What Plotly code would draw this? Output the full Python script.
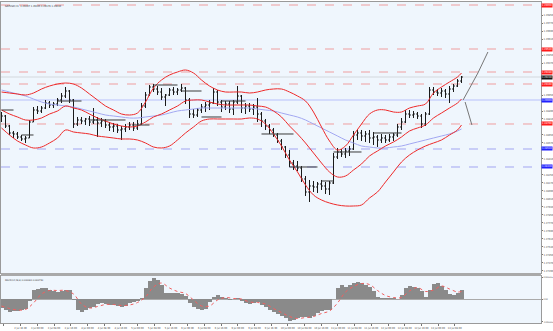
import plotly.graph_objects as go

# ---------------- data ----------------
opens = [1.2882, 1.2884, 1.2874, 1.2867, 1.2866, 1.2863, 1.2861, 1.2862, 1.2878, 1.2890,
         1.2889, 1.2892, 1.2897, 1.2895, 1.2896, 1.2900, 1.2904, 1.2909, 1.2900, 1.2876,
         1.2880, 1.2879, 1.2881, 1.2878, 1.2880, 1.2877, 1.2879, 1.2875, 1.2873, 1.2874,
         1.2870, 1.2871, 1.2873, 1.2875, 1.2872, 1.2876, 1.2894, 1.2905, 1.2913, 1.2911,
         1.2908, 1.2903, 1.2905, 1.2910, 1.2908, 1.2910, 1.2912, 1.2900, 1.2886, 1.2885,
         1.2890, 1.2893, 1.2895, 1.2897, 1.2908, 1.2898, 1.2893, 1.2896, 1.2891, 1.2898,
         1.2904, 1.2892, 1.2894, 1.2891, 1.2893, 1.2886, 1.2879, 1.2874, 1.2870, 1.2865,
         1.2859, 1.2853, 1.2845, 1.2837, 1.2834, 1.2832, 1.2821, 1.2808, 1.2814, 1.2813,
         1.2816, 1.2814, 1.2811, 1.2817, 1.2843, 1.2848, 1.2846, 1.2849, 1.2851, 1.2865,
         1.2867, 1.2864, 1.2866, 1.2862, 1.2863, 1.2860, 1.2862, 1.2860, 1.2863, 1.2865,
         1.2873, 1.2878, 1.2886, 1.2885, 1.2886, 1.2884, 1.2876, 1.2886, 1.2910, 1.2908,
         1.2907, 1.2909, 1.2906, 1.2911, 1.2914, 1.2919]
highs = [1.2888, 1.2885, 1.2875, 1.2869, 1.2868, 1.2865, 1.2864, 1.2880, 1.2893, 1.2894,
         1.2894, 1.2900, 1.2899, 1.2898, 1.2902, 1.2907, 1.2913, 1.2910, 1.2901, 1.2883,
         1.2883, 1.2882, 1.2884, 1.2892, 1.2883, 1.2882, 1.2881, 1.2878, 1.2877, 1.2876,
         1.2874, 1.2876, 1.2878, 1.2878, 1.2880, 1.2897, 1.2908, 1.2915, 1.2916, 1.2914,
         1.2912, 1.2906, 1.2912, 1.2913, 1.2912, 1.2916, 1.2913, 1.2902, 1.2891, 1.2892,
         1.2896, 1.2898, 1.2900, 1.2912, 1.2910, 1.2900, 1.2899, 1.2899, 1.2900, 1.2914,
         1.2905, 1.2897, 1.2897, 1.2896, 1.2902, 1.2888, 1.2881, 1.2876, 1.2872, 1.2867,
         1.2861, 1.2854, 1.2850, 1.2840, 1.2839, 1.2834, 1.2824, 1.2820, 1.2819, 1.2818,
         1.2820, 1.2818, 1.2819, 1.2847, 1.2852, 1.2851, 1.2852, 1.2854, 1.2869, 1.2871,
         1.2870, 1.2869, 1.2870, 1.2868, 1.2865, 1.2866, 1.2865, 1.2866, 1.2867, 1.2876,
         1.2882, 1.2890, 1.2890, 1.2889, 1.2888, 1.2886, 1.2888, 1.2913, 1.2913, 1.2911,
         1.2912, 1.2911, 1.2914, 1.2916, 1.2921, 1.2924]
lows = [1.2878, 1.2872, 1.2865, 1.2862, 1.2861, 1.2859, 1.2857, 1.2862, 1.2878, 1.2886,
        1.2887, 1.2891, 1.2892, 1.2892, 1.2894, 1.2897, 1.2902, 1.2897, 1.2872, 1.2874,
        1.2876, 1.2875, 1.2874, 1.2876, 1.2863, 1.2873, 1.2872, 1.2869, 1.2868, 1.2867,
        1.2860, 1.2868, 1.2870, 1.2869, 1.2870, 1.2875, 1.2892, 1.2904, 1.2908, 1.2905,
        1.2900, 1.2894, 1.2904, 1.2905, 1.2905, 1.2908, 1.2896, 1.2882, 1.2882, 1.2883,
        1.2887, 1.2888, 1.2890, 1.2896, 1.2894, 1.2888, 1.2890, 1.2887, 1.2885, 1.2896,
        1.2887, 1.2886, 1.2888, 1.2885, 1.2878, 1.2873, 1.2870, 1.2866, 1.2863, 1.2857,
        1.2850, 1.2842, 1.2833, 1.2830, 1.2829, 1.2818, 1.2804, 1.2798, 1.2808, 1.2807,
        1.2810, 1.2806, 1.2805, 1.2816, 1.2841, 1.2843, 1.2842, 1.2844, 1.2850, 1.2860,
        1.2859, 1.2858, 1.2857, 1.2855, 1.2853, 1.2857, 1.2857, 1.2858, 1.2859, 1.2863,
        1.2870, 1.2877, 1.2882, 1.2882, 1.2881, 1.2872, 1.2874, 1.2885, 1.2905, 1.2904,
        1.2903, 1.2902, 1.2897, 1.2908, 1.2913, 1.2917]
closes = [1.2884, 1.2874, 1.2867, 1.2866, 1.2863, 1.2861, 1.2862, 1.2878, 1.2890, 1.2889,
          1.2892, 1.2897, 1.2895, 1.2896, 1.2900, 1.2904, 1.2909, 1.2900, 1.2876, 1.2880,
          1.2879, 1.2881, 1.2878, 1.2880, 1.2877, 1.2879, 1.2875, 1.2873, 1.2874, 1.2870,
          1.2871, 1.2873, 1.2875, 1.2872, 1.2876, 1.2894, 1.2905, 1.2913, 1.2911, 1.2908,
          1.2903, 1.2905, 1.2910, 1.2908, 1.2910, 1.2912, 1.2900, 1.2886, 1.2885, 1.2890,
          1.2893, 1.2895, 1.2897, 1.2908, 1.2898, 1.2893, 1.2896, 1.2891, 1.2898, 1.2904,
          1.2892, 1.2894, 1.2891, 1.2893, 1.2886, 1.2879, 1.2874, 1.2870, 1.2865, 1.2859,
          1.2853, 1.2845, 1.2837, 1.2834, 1.2832, 1.2821, 1.2808, 1.2814, 1.2813, 1.2816,
          1.2814, 1.2811, 1.2817, 1.2843, 1.2848, 1.2846, 1.2849, 1.2851, 1.2865, 1.2867,
          1.2864, 1.2866, 1.2862, 1.2863, 1.2860, 1.2862, 1.2860, 1.2863, 1.2865, 1.2873,
          1.2878, 1.2886, 1.2885, 1.2886, 1.2884, 1.2876, 1.2886, 1.2910, 1.2908, 1.2907,
          1.2909, 1.2906, 1.2911, 1.2914, 1.2919, 1.2923]

# Bollinger bands + slow MA, sampled every second bar (plus the last one)
bb_upper = [1.2908, 1.2907, 1.2906, 1.2905, 1.2907, 1.2911, 1.2914, 1.2916, 1.2917, 1.2916,
            1.2912, 1.2906, 1.2900, 1.2894, 1.2890, 1.2886, 1.2885, 1.2887, 1.2898, 1.2912,
            1.2920, 1.2925, 1.2928, 1.2930, 1.2927, 1.2920, 1.2914, 1.2910, 1.2908, 1.2908,
            1.2908, 1.2907, 1.2908, 1.2910, 1.2911, 1.2911, 1.2908, 1.2904, 1.2899, 1.2888,
            1.2873, 1.2859, 1.2850, 1.2854, 1.2865, 1.2876, 1.2886, 1.2890, 1.2890, 1.2888,
            1.2888, 1.2892, 1.2894, 1.2896, 1.2907, 1.2913, 1.2918, 1.2923, 1.2927]
bb_mid = [1.2890, 1.2886, 1.2883, 1.2880, 1.2880, 1.2882, 1.2886, 1.2889, 1.2894, 1.2892,
          1.2890, 1.2886, 1.2882, 1.2879, 1.2876, 1.2874, 1.2873, 1.2874, 1.2878, 1.2883,
          1.2886, 1.2890, 1.2894, 1.2899, 1.2900, 1.2900, 1.2898, 1.2896, 1.2895, 1.2895,
          1.2895, 1.2895, 1.2894, 1.2893, 1.2889, 1.2883, 1.2874, 1.2866, 1.2857, 1.2847,
          1.2837, 1.2828, 1.2823, 1.2824, 1.2830, 1.2836, 1.2844, 1.2849, 1.2854, 1.2858,
          1.2863, 1.2869, 1.2872, 1.2875, 1.2882, 1.2887, 1.2892, 1.2897, 1.2901]
bb_lower = [1.2872, 1.2865, 1.2859, 1.2855, 1.2852, 1.2853, 1.2857, 1.2862, 1.2870, 1.2868,
            1.2867, 1.2866, 1.2864, 1.2863, 1.2862, 1.2861, 1.2861, 1.2860, 1.2857, 1.2853,
            1.2852, 1.2854, 1.2860, 1.2867, 1.2873, 1.2879, 1.2881, 1.2881, 1.2881, 1.2881,
            1.2881, 1.2882, 1.2881, 1.2876, 1.2866, 1.2854, 1.2840, 1.2828, 1.2815, 1.2805,
            1.2800, 1.2797, 1.2795, 1.2794, 1.2794, 1.2795, 1.2802, 1.2808, 1.2818, 1.2828,
            1.2838, 1.2845, 1.2850, 1.2854, 1.2857, 1.2860, 1.2865, 1.2870, 1.2875]
ma_slow = [1.2910, 1.2908, 1.2906, 1.2904, 1.2901, 1.2898, 1.2896, 1.2895, 1.2894, 1.2893,
           1.2891, 1.2889, 1.2887, 1.2885, 1.2884, 1.2883, 1.2882, 1.2882, 1.2883, 1.2884,
           1.2885, 1.2887, 1.2889, 1.2890, 1.2891, 1.2892, 1.2892, 1.2892, 1.2892, 1.2892,
           1.2892, 1.2892, 1.2891, 1.2890, 1.2889, 1.2887, 1.2885, 1.2883, 1.2880, 1.2876,
           1.2872, 1.2868, 1.2864, 1.2860, 1.2857, 1.2854, 1.2853, 1.2852, 1.2852, 1.2853,
           1.2854, 1.2856, 1.2858, 1.2860, 1.2862, 1.2864, 1.2866, 1.2869, 1.2871]

macd_hist = [-0.00085, -0.00105, -0.00125, -0.0012, -0.00115, -0.0011, -0.00095, -0.0002, 0.0009, 0.00105,
             0.0011, 0.0011, 0.00095, 0.0008, 0.0007, 0.0008, 0.00095, 0.0009, -0.0001, -0.0011,
             -0.00125, -0.0011, -0.0009, -0.00075, -0.0005, -0.0004, -0.0005, -0.0006, -0.0006, -0.0007,
             -0.00075, -0.00065, -0.0004, -0.00025, -0.00015, 0.0001, 0.0011, 0.0018, 0.0021, 0.00195,
             0.0014, 0.0006, 0.0006, 0.0006, 0.0006, 0.00055, 0.00035, -0.00035, -0.00075, -0.00095,
             -0.00105, -0.00095, -0.0003, 0.00025, 0.0004, 0.00025, 0.00005, -0.0001, 0.0, 0.0001,
             -0.00015, -0.00035, -0.0005, -0.0004, -0.00025, -0.00055, -0.0008, -0.0011, -0.0013, -0.0015,
             -0.00165, -0.00185, -0.00225, -0.0021, -0.0019, -0.0018, -0.0018, -0.0019, -0.00165, -0.0014,
             -0.0012, -0.0011, -0.0011, 0.0, 0.0011, 0.0014, 0.00125, 0.0014, 0.0016, 0.00175,
             0.00165, 0.00145, 0.00125, 0.0008, 0.00015, 0.0001, 0.0001, 0.0001, 0.00005, 0.0,
             0.0004, 0.0011, 0.0013, 0.00125, 0.00115, 0.0008, 0.00015, 0.0009, 0.0015, 0.0016,
             0.0013, 0.0009, 0.00055, 0.0004, 0.0006, 0.0009]
macd_signal = [-0.0007, -0.00095, -0.0011, -0.00105, -0.0004, 0.0005, 0.00085, 0.00085, 0.00085, 0.0005,
               -0.0005, -0.0009, -0.00075, -0.00055, -0.00055, -0.00065, -0.0006, -0.00035, 0.0002, 0.0012,
               0.0016, 0.0011, 0.00075, 0.00055, -0.0001, -0.0007, -0.0007, -0.0001, 0.00015, 0.00005,
               0.0, -0.0003, -0.00035, -0.0005, -0.00095, -0.00135, -0.00175, -0.00195, -0.00185, -0.00175,
               -0.00145, -0.0012, -0.0004, 0.0007, 0.00125, 0.00155, 0.00145, 0.00085, 0.00035, 0.00015,
               0.00015, 0.0008, 0.00115, 0.00075, 0.0009, 0.0013, 0.001, 0.0007, 0.00075]

# horizontal levels drawn on the chart
red_levels = [1.2995, 1.2951, 1.2928, 1.2916, 1.2876]
blue_dash_levels = [1.2851, 1.2833]
blue_solid_levels = [1.2900]
bid_level = 1.2923

# short black level segments (bar index start / end, price)
seg_start = [0, 5, 14, 22, 33, 38, 45, 50, 55, 65, 72, 80, 83, 93]
seg_end = [3, 8, 20, 31, 37, 44, 50, 55, 61, 73, 79, 83, 90, 100]
seg_level = [1.2890, 1.2865, 1.2899, 1.2880, 1.2875, 1.2915, 1.2909, 1.2883, 1.2899,
             1.2866, 1.2833, 1.2819, 1.2848, 1.2867]

# hand-drawn projection lines
proj_up_x = [115.4, 119.1, 121.6]
proj_up_y = [1.2900, 1.2927, 1.2948]
proj_dn_x = [115.9, 117.6]
proj_dn_y = [1.2898, 1.2875]

time_labels = ["2 Jul 2018", "2 Jul 16:00", "3 Jul 00:00", "3 Jul 08:00", "3 Jul 16:00",
               "4 Jul 00:00", "4 Jul 08:00", "4 Jul 16:00", "5 Jul 00:00", "5 Jul 08:00",
               "5 Jul 16:00", "6 Jul 00:00", "6 Jul 08:00", "6 Jul 16:00", "9 Jul 00:00",
               "9 Jul 08:00", "9 Jul 16:00", "10 Jul 00:00", "10 Jul 08:00", "10 Jul 16:00",
               "11 Jul 00:00", "11 Jul 08:00", "11 Jul 16:00", "12 Jul 00:00", "12 Jul 08:00",
               "12 Jul 16:00", "13 Jul 00:00", "13 Jul 08:00"]

# ---------------- figure ----------------
n = len(closes)
bar_idx = list(range(n))
band_idx = list(range(0, n, 2)) + [n - 1]

RED = "#ee2a2a"
FONT = "DejaVu Sans Condensed, DejaVu Sans"
fig = go.Figure()

fig.add_trace(go.Scatter(x=band_idx, y=ma_slow, mode="lines", line=dict(color="#a3a8f2", width=1, shape="spline"),
                         xaxis="x", yaxis="y"))
for arr in (bb_upper, bb_mid, bb_lower):
    fig.add_trace(go.Scatter(x=band_idx, y=arr, mode="lines", line=dict(color=RED, width=1, shape="spline"),
                             xaxis="x", yaxis="y"))

sx, sy = [], []
for a, b, lv in zip(seg_start, seg_end, seg_level):
    sx += [a, b, None]
    sy += [lv, lv, None]
fig.add_trace(go.Scatter(x=sx, y=sy, mode="lines", line=dict(color="#3a3a3a", width=1), xaxis="x", yaxis="y"))

fig.add_trace(go.Ohlc(x=bar_idx, open=opens, high=highs, low=lows, close=closes,
                      increasing=dict(line=dict(color="#1a1a1a", width=1)),
                      decreasing=dict(line=dict(color="#1a1a1a", width=1)),
                      tickwidth=0.35, xaxis="x", yaxis="y"))

fig.add_trace(go.Scatter(x=proj_up_x, y=proj_up_y, mode="lines", line=dict(color="#777", width=1), xaxis="x", yaxis="y"))
fig.add_trace(go.Scatter(x=proj_dn_x, y=proj_dn_y, mode="lines", line=dict(color="#777", width=1), xaxis="x", yaxis="y"))

fig.add_trace(go.Bar(x=bar_idx, y=macd_hist, marker=dict(color="#8a8a8a", line=dict(width=0)),
                     width=1.0, xaxis="x2", yaxis="y2"))
fig.add_trace(go.Scatter(x=band_idx, y=macd_signal, mode="lines",
                         line=dict(color="#f06060", width=1, dash="dot", shape="spline"), xaxis="x2", yaxis="y2"))

# horizontal level lines
shapes = []
for lv in red_levels:
    shapes.append(dict(type="line", xref="paper", x0=0, x1=1, yref="y", y0=lv, y1=lv,
                       line=dict(color="rgba(240,110,110,0.65)", width=1, dash="dash"), layer="below"))
for lv in blue_dash_levels:
    shapes.append(dict(type="line", xref="paper", x0=0, x1=1, yref="y", y0=lv, y1=lv,
                       line=dict(color="rgba(110,110,235,0.6)", width=1, dash="dash"), layer="below"))
for lv in blue_solid_levels:
    shapes.append(dict(type="line", xref="paper", x0=0, x1=1, yref="y", y0=lv, y1=lv,
                       line=dict(color="rgba(170,180,250,0.8)", width=1), layer="below"))
shapes.append(dict(type="line", xref="paper", x0=0, x1=1, yref="y", y0=bid_level, y1=bid_level,
                   line=dict(color="rgba(160,160,160,0.35)", width=1), layer="below"))
# separator between panels
shapes.append(dict(type="rect", xref="paper", x0=0, x1=1, yref="paper", y0=0.1464, y1=0.1558,
                   fillcolor="#a9a9a9", line=dict(width=0)))

tag_levels = red_levels + blue_dash_levels + blue_solid_levels + [bid_level]
annotations = []
def price_tag(lv, color):
    annotations.append(dict(xref="paper", x=1.0, xanchor="left", yref="y", y=lv, yanchor="middle",
                            text="%.5f" % lv, showarrow=False, bgcolor=color, borderpad=0,
                            font=dict(size=2.6, color="white", family=FONT)))
for lv in red_levels:
    price_tag(lv, "#ff1a1a")
for lv in blue_dash_levels + blue_solid_levels:
    price_tag(lv, "#2020ff")
price_tag(bid_level, "#111111")

annotations.append(dict(xref="paper", x=0.004, xanchor="left", yref="paper", y=0.997, yanchor="top",
                        text="GBPUSD,H1  1.29207 1.29245 1.29176 1.29230", showarrow=False,
                        font=dict(size=2.6, color="#333", family=FONT)))
annotations.append(dict(xref="paper", x=0.004, xanchor="left", yref="paper", y=0.144, yanchor="top",
                        text="MACD(12,26,9) 0.000901 0.000750", showarrow=False,
                        font=dict(size=2.4, color="#333", family=FONT)))

price_ticks = [round(1.2993 - 0.0008 * k, 4) for k in range(34)]
price_ticks = [v for v in price_ticks if min(abs(v - t) for t in tag_levels) > 0.00035]
label_step = 4.175
tick_pos = [0.6 + label_step * k for k in range(len(time_labels))]

fig.update_layout(
    width=553, height=331,
    margin=dict(l=1, r=12, t=2, b=8, autoexpand=False),
    paper_bgcolor="#ffffff", plot_bgcolor="#eff6fd",
    showlegend=False, bargap=0,
    shapes=shapes, annotations=annotations,
    xaxis=dict(domain=[0, 1], range=[-0.125, 134.875], anchor="y", showticklabels=False,
               showgrid=False, zeroline=False, showline=True, linecolor="#9a9a9a", mirror=True,
               rangeslider=dict(visible=False), fixedrange=True, automargin=False),
    yaxis=dict(domain=[0.1558, 1.0], range=[1.2727, 1.2998], side="right", anchor="x",
               tickvals=price_ticks, ticktext=["%.5f" % v for v in price_ticks],
               tickfont=dict(size=2.6, color="#444", family=FONT),
               ticks="outside", ticklen=1, tickcolor="#777", automargin=False,
               showgrid=False, zeroline=False, showline=True, linecolor="#9a9a9a", mirror=True),
    xaxis2=dict(domain=[0, 1], range=[-0.125, 134.875], anchor="y2", matches="x",
                tickvals=tick_pos, ticktext=time_labels, tickangle=0, automargin=False,
                tickfont=dict(size=2.6, color="#444", family=FONT),
                ticks="outside", ticklen=2, tickcolor="#777",
                showgrid=False, zeroline=False, showline=True, linecolor="#9a9a9a", mirror=True),
    yaxis2=dict(domain=[0.0, 0.1464], range=[-0.0024, 0.0023], side="right", anchor="x2",
                tickvals=[0.0022, 0.0, -0.0023], ticktext=["0.002315", "0.00", "-0.002315"],
                tickfont=dict(size=2.2, color="#444", family=FONT), automargin=False,
                ticks="outside", ticklen=1, tickcolor="#777",
                showgrid=False, zeroline=True, zerolinecolor="#aaaaaa", zerolinewidth=1,
                showline=True, linecolor="#9a9a9a", mirror=True),
)

fig.write_html("out.html")
